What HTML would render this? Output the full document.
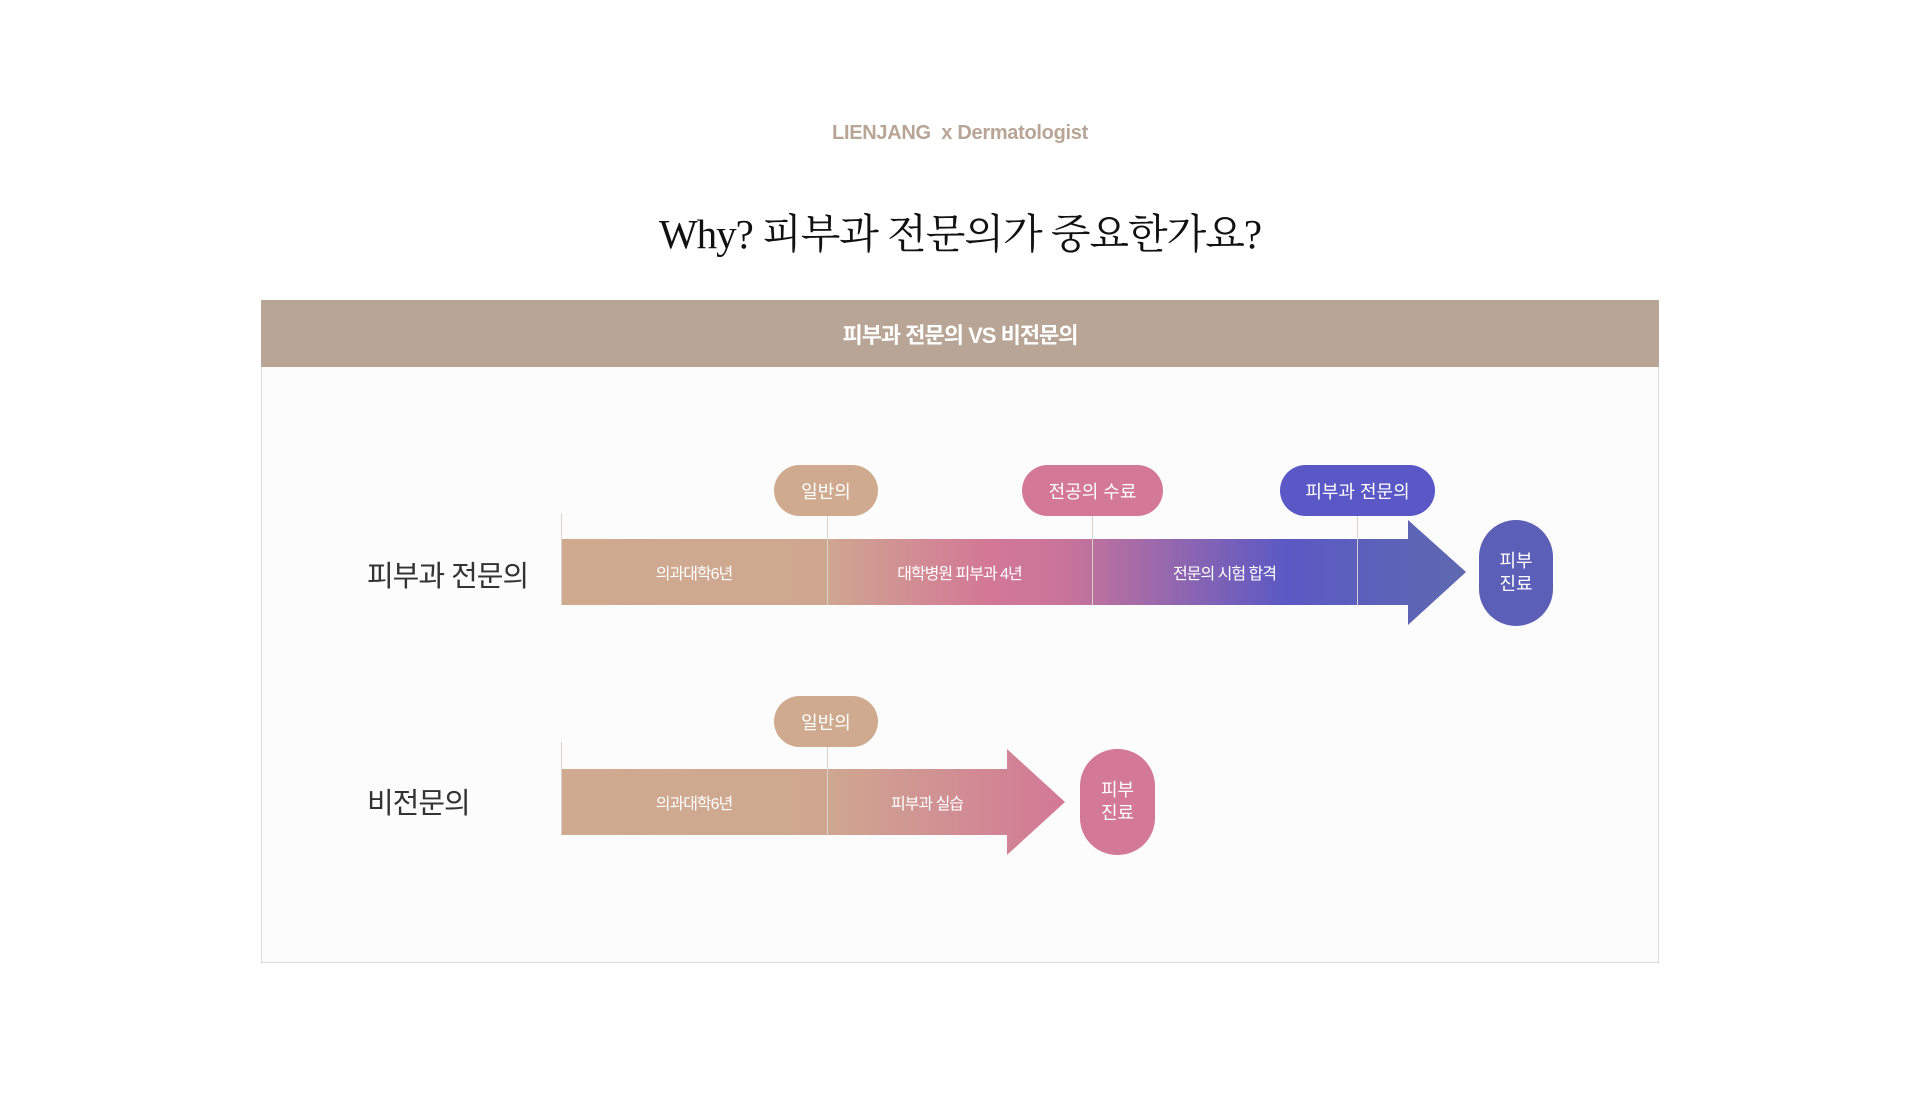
<!DOCTYPE html>
<html><head><meta charset="utf-8"><style>
body{margin:0;width:1920px;height:1113px;background:#fff;position:relative;overflow:hidden;font-family:"Liberation Sans","Noto Sans CJK KR",sans-serif}
.a{position:absolute}
.c{display:flex;align-items:center;justify-content:center;text-align:center}
.pill{position:absolute;border-radius:26px;color:#fff;font-size:18px;display:flex;align-items:center;justify-content:center}
.seg{position:absolute;color:#fff;font-size:16px;display:flex;align-items:center;justify-content:center;letter-spacing:-1px}
.vl{position:absolute;width:1px;background:#d8d2cc}
</style></head><body>
<div class="a c" style="left:0;width:1920px;top:118px;height:30px;font-size:20px;color:#b9a596;font-weight:bold;letter-spacing:-0.3px">LIENJANG&nbsp; x Dermatologist</div>
<div class="a c" style="left:0;width:1920px;top:200px;height:60px;font-size:41px;color:#111;letter-spacing:-1px;font-family:'Liberation Serif','Noto Serif CJK SC',serif">Why? 피부과 전문의가 중요한가요?</div>
<div class="a c" style="left:261px;top:300px;width:1398px;height:67px;background:#b9a596;color:#fff;font-size:22px;font-weight:bold;letter-spacing:-1px">피부과 전문의 VS 비전문의</div>
<div class="a" style="left:261px;top:367px;width:1396px;height:595px;background:#fcfcfc;border:1px solid #dedede;border-top:none"></div>

<div class="a" style="left:367px;top:553px;font-size:29px;color:#333;letter-spacing:-1px">피부과 전문의</div>
<div class="a" style="left:367px;top:780px;font-size:29px;color:#333;letter-spacing:-1px">비전문의</div>

<svg class="a" style="left:0;top:0" width="1920" height="1113">
<defs>
<linearGradient id="g1" gradientUnits="userSpaceOnUse" x1="561" y1="0" x2="1466" y2="0">
<stop offset="0" stop-color="#cfaa8f"/><stop offset="0.29" stop-color="#cfa790"/><stop offset="0.47" stop-color="#d37896"/><stop offset="0.56" stop-color="#c8749a"/><stop offset="0.8" stop-color="#5b59c4"/><stop offset="1" stop-color="#5e69b0"/></linearGradient>
<linearGradient id="g2" gradientUnits="userSpaceOnUse" x1="561" y1="0" x2="1065" y2="0">
<stop offset="0" stop-color="#cfaa8f"/><stop offset="0.53" stop-color="#cfa790"/><stop offset="1" stop-color="#d37896"/></linearGradient>
</defs>
<polygon points="561,539 1408,539 1408,520 1466,572 1408,625 1408,605 561,605" fill="url(#g1)"/>
<polygon points="561,769 1007,769 1007,749 1065,802 1007,855 1007,835 561,835" fill="url(#g2)"/>
</svg>
<div class="vl" style="left:561px;top:514px;height:91px"></div>
<div class="vl" style="left:827px;top:516px;height:89px"></div>
<div class="vl" style="left:1092px;top:516px;height:89px"></div>
<div class="vl" style="left:1357px;top:516px;height:89px"></div>
<div class="vl" style="left:561px;top:742px;height:93px"></div>
<div class="vl" style="left:827px;top:747px;height:88px"></div>

<div class="seg" style="left:561px;top:539px;width:266px;height:66px">의과대학6년</div>
<div class="seg" style="left:827px;top:539px;width:265px;height:66px">대학병원 피부과 4년</div>
<div class="seg" style="left:1092px;top:539px;width:265px;height:66px">전문의 시험 합격</div>
<div class="seg" style="left:561px;top:769px;width:266px;height:66px">의과대학6년</div>
<div class="seg" style="left:827px;top:769px;width:200px;height:66px">피부과 실습</div>

<div class="pill" style="left:774px;top:465px;width:104px;height:51px;background:#cfaa8f">일반의</div>
<div class="pill" style="left:1022px;top:465px;width:141px;height:51px;background:#d37896">전공의 수료</div>
<div class="pill" style="left:1280px;top:465px;width:155px;height:51px;background:#5a57c6">피부과 전문의</div>
<div class="pill" style="left:774px;top:696px;width:104px;height:51px;background:#cfaa8f">일반의</div>
<div class="pill" style="left:1479px;top:520px;width:74px;height:106px;border-radius:37px;background:#5c5fb8;line-height:1.3">피부<br>진료</div>
<div class="pill" style="left:1080px;top:749px;width:75px;height:106px;border-radius:37px;background:#d37896;line-height:1.3">피부<br>진료</div>
</body></html>
